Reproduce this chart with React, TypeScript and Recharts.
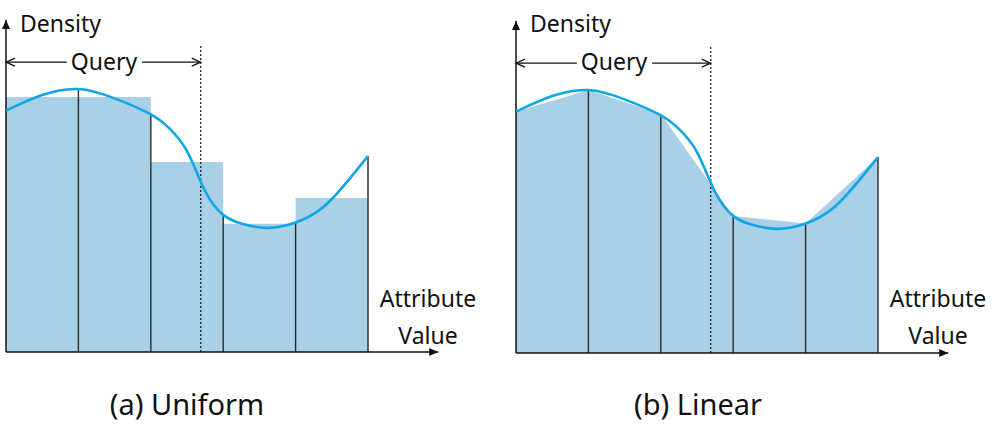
import {
  Area,
  ComposedChart,
  Line,
  ReferenceDot,
  ReferenceLine,
  XAxis,
  YAxis,
} from "recharts";

// bin edges along the attribute axis
const binEdges = [0, 1, 2, 3, 4, 5];
// (a) uniform: one height per bin
const uniformHeights = [7.68, 7.68, 5.72, 3.86, 4.64];
// true density sampled at the bin edges (also the linear knots)
const knotDensity = [7.27, 7.92, 7.2, 4.13, 3.9, 5.9];
// the smooth density curve
const curveX = [0, 0.5, 1, 1.5, 2, 2.25, 2.5, 2.75, 3, 3.25, 3.6, 4, 4.4, 4.75, 5];
const curveY = [7.27, 7.74, 7.92, 7.64, 7.16, 6.75, 6.05, 4.85, 4.13, 3.87, 3.74, 3.9, 4.4, 5.23, 5.9];
// query range and its label height
const queryEnd = 2.69;
const queryLevel = 8.73;
const queryTop = 9.25;
const axisEndX = 5.97;
const axisEndY = 10;

const BAR = "#a9d0e6";
const CURVE = "#0ea7e6";
const INK = "#111";
const FONT = "'Noto Sans', 'Open Sans', sans-serif";

const uniformData = binEdges.map((x, i) => ({
  x,
  d: uniformHeights[Math.min(i, uniformHeights.length - 1)],
}));
const linearData = binEdges.map((x, i) => ({ x, d: knotDensity[i] }));
const curveData = curveX.map((x, i) => ({ x, d: curveY[i] }));

const arrowRight = (p: any) => (
  <path d={`M${p.cx},${p.cy} l-9,-4 l0,8 z`} fill={INK} />
);
const arrowUp = (p: any) => (
  <path d={`M${p.cx},${p.cy} l-4,9 l8,0 z`} fill={INK} />
);
const openRight = (p: any) => (
  <path
    d={`M${p.cx - 9},${p.cy - 4} L${p.cx},${p.cy} L${p.cx - 9},${p.cy + 4}`}
    fill="none"
    stroke={INK}
    strokeWidth={1.2}
  />
);
const openLeft = (p: any) => (
  <path
    d={`M${p.cx + 9},${p.cy - 4} L${p.cx},${p.cy} L${p.cx + 9},${p.cy + 4}`}
    fill="none"
    stroke={INK}
    strokeWidth={1.2}
  />
);

function Panel({ linear }: { linear: boolean }) {
  return (
    <ComposedChart
      width={487}
      height={431}
      margin={{ top: 20, right: 46.6, bottom: 79, left: 6 }}
    >
      <XAxis hide type="number" dataKey="x" domain={[0, 6]} allowDataOverflow />
      <YAxis hide type="number" domain={[0, 10]} allowDataOverflow />
      <Area
        data={linear ? linearData : uniformData}
        dataKey="d"
        type={linear ? "linear" : "stepAfter"}
        fill={BAR}
        fillOpacity={1}
        stroke="none"
        dot={false}
        activeDot={false}
        isAnimationActive={false}
      />
      {binEdges.slice(1).map((x, i) => (
        <ReferenceLine
          key={x}
          segment={[
            { x, y: 0 },
            { x, y: knotDensity[i + 1] },
          ]}
          stroke="#2a2a2a"
          strokeWidth={1.4}
        />
      ))}
      <ReferenceLine
        segment={[
          { x: queryEnd, y: 0 },
          { x: queryEnd, y: queryTop },
        ]}
        stroke={INK}
        strokeWidth={1.2}
        strokeDasharray="2 2"
      />
      <ReferenceLine
        segment={[
          { x: 0, y: queryLevel },
          { x: 0.84, y: queryLevel },
        ]}
        stroke={INK}
        strokeWidth={1.2}
      />
      <ReferenceLine
        segment={[
          { x: 1.88, y: queryLevel },
          { x: queryEnd, y: queryLevel },
        ]}
        stroke={INK}
        strokeWidth={1.2}
      />
      <ReferenceDot x={0} y={queryLevel} r={0} shape={openLeft} />
      <ReferenceDot x={queryEnd} y={queryLevel} r={0} shape={openRight} />
      <ReferenceLine
        segment={[
          { x: 0, y: 0 },
          { x: axisEndX, y: 0 },
        ]}
        stroke={INK}
        strokeWidth={1.5}
      />
      <ReferenceLine
        segment={[
          { x: 0, y: 0 },
          { x: 0, y: axisEndY },
        ]}
        stroke={INK}
        strokeWidth={1.5}
      />
      <ReferenceDot x={axisEndX} y={0} r={0} shape={arrowRight} />
      <ReferenceDot x={0} y={axisEndY} r={0} shape={arrowUp} />
      <Line
        data={curveData}
        dataKey="d"
        type="natural"
        stroke={CURVE}
        strokeWidth={2.6}
        dot={false}
        activeDot={false}
        isAnimationActive={false}
      />
    </ComposedChart>
  );
}

const textStyle = { fontFamily: FONT, fill: INK };

export default function App() {
  return (
    <div
      style={{
        position: "absolute",
        left: 0,
        top: 0,
        width: 997,
        height: 431,
        background: "#fff",
      }}
    >
      <div style={{ position: "absolute", left: 0, top: 0 }}>
        <Panel linear={false} />
      </div>
      <div style={{ position: "absolute", left: 510, top: 1 }}>
        <Panel linear />
      </div>
      <svg
        width={997}
        height={431}
        style={{ position: "absolute", left: 0, top: 0, pointerEvents: "none" }}
      >
        {[0, 510].map((dx, k) => (
          <g key={dx} style={textStyle}>
            <text x={dx + 20} y={32} fontSize={23}>
              Density
            </text>
            <text x={dx + 104} y={70} fontSize={23} textAnchor="middle">
              Query
            </text>
            <text x={dx + 428} y={307} fontSize={23} textAnchor="middle">
              Attribute
            </text>
            <text x={dx + 428} y={344} fontSize={23} textAnchor="middle">
              Value
            </text>
            <text x={dx + (k === 0 ? 187 : 188)} y={415} fontSize={29} textAnchor="middle">
              {k === 0 ? "(a) Uniform" : "(b) Linear"}
            </text>
          </g>
        ))}
      </svg>
    </div>
  );
}
